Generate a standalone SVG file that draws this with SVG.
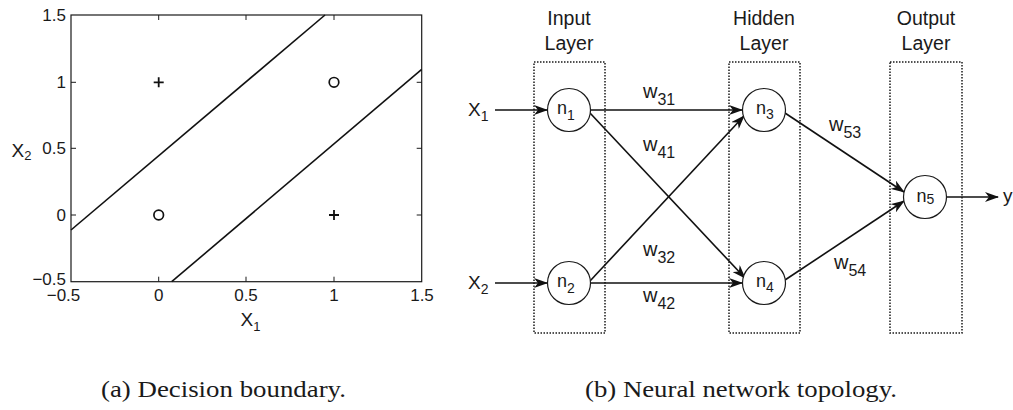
<svg xmlns="http://www.w3.org/2000/svg" width="1013" height="410" viewBox="0 0 1013 410">
<style>
.tk{font-size:17px}
.ax{font-size:19px}
.lay{font-size:19.5px}
.cap{font-size:23px}
.ln{stroke:#111;stroke-width:1.6;fill:none}
.box{stroke:#1a1a1a;stroke-width:1.5;fill:none;stroke-dasharray:1.5 1.5}
.nd{stroke:#1a1a1a;stroke-width:1.2;fill:#fff}
.nl{font-size:18px}
.wl{font-size:20px}
.edge{stroke:#111;stroke-width:1.6;fill:none;marker-end:url(#ah)}
</style>
<defs>
<marker id="ah" viewBox="0 0 14 10" refX="13" refY="5" markerWidth="14" markerHeight="10" markerUnits="userSpaceOnUse" orient="auto">
<path d="M0,0 L14,5 L0,10 L4,5 Z" fill="#111"/>
</marker>
</defs>
<rect width="1013" height="410" fill="#fff"/>

<g id="plot" font-family="'Liberation Sans', Arial, sans-serif" fill="#1a1a1a">
<rect x="71" y="15" width="350.7" height="266.7" fill="none" stroke="#1a1a1a" stroke-width="1.2"/>
<g stroke="#1a1a1a" stroke-width="1">
<path d="M158.7,281.7v-5M246,281.7v-5M334,281.7v-5M158.7,15v5M246,15v5M334,15v5"/>
<path d="M71,215h5M71,148.3h5M71,82.3h5M421.7,215h-5M421.7,148.3h-5M421.7,82.3h-5"/>
</g>
<line class="ln" x1="71" y1="230" x2="325" y2="15"/>
<line class="ln" x1="171.7" y1="281.7" x2="421.7" y2="69.3"/>
<path d="M153.7,82.3h10M158.7,77.3v10M329,215h10M334,210v10" stroke="#111" stroke-width="1.8"/>
<circle cx="334" cy="82.3" r="4.8" fill="none" stroke="#111" stroke-width="1.7"/>
<circle cx="158.7" cy="215" r="4.8" fill="none" stroke="#111" stroke-width="1.7"/>
<g class="tk" text-anchor="end">
<text x="66" y="21">1.5</text>
<text x="66" y="88">1</text>
<text x="66" y="154">0.5</text>
<text x="66" y="221">0</text>
<text x="66" y="285">−0.5</text>
</g>
<g class="tk" text-anchor="middle">
<text x="63.5" y="301">−0.5</text>
<text x="158.7" y="301">0</text>
<text x="246" y="301">0.5</text>
<text x="334" y="301">1</text>
<text x="422" y="301">1.5</text>
</g>
<text class="ax" x="11.5" y="156.5">X<tspan font-size="13" dy="3.5">2</tspan></text>
<text class="ax" x="240.5" y="326">X<tspan font-size="13" dy="5">1</tspan></text>
</g>

<g id="layers" font-family="'Liberation Sans', Arial, sans-serif" fill="#1a1a1a">
<rect class="box" x="534" y="62" width="71" height="271"/>
<rect class="box" x="729" y="62" width="71" height="271"/>
<rect class="box" x="890" y="62" width="72" height="271"/>
<g class="lay" text-anchor="middle">
<text x="569" y="25">Input</text>
<text x="569" y="50">Layer</text>
<text x="764" y="25">Hidden</text>
<text x="764" y="50">Layer</text>
<text x="926" y="25">Output</text>
<text x="926" y="50">Layer</text>
</g>
</g>

<g id="connectors">
<line class="edge" x1="495" y1="110" x2="547" y2="110"/>
<line class="edge" x1="495" y1="283" x2="547" y2="283"/>
<line class="edge" x1="590" y1="110" x2="742" y2="110"/>
<line class="edge" x1="590" y1="113" x2="745" y2="278"/>
<line class="edge" x1="590" y1="281" x2="744" y2="116"/>
<line class="edge" x1="590" y1="283" x2="742" y2="283"/>
<line class="edge" x1="785" y1="113" x2="904" y2="192"/>
<line class="edge" x1="785" y1="280" x2="904" y2="201"/>
<line class="edge" x1="946" y1="197" x2="998" y2="197"/>
</g>

<g id="labels" class="wl" font-family="'Liberation Sans', Arial, sans-serif" fill="#1a1a1a">
<text x="468" y="116" class="ax">X<tspan font-size="14" dy="5">1</tspan></text>
<text x="468" y="289" class="ax">X<tspan font-size="14" dy="5">2</tspan></text>
<text x="1003" y="202" class="ax">y</text>
<text x="643" y="98">w<tspan font-size="16" dy="7">31</tspan></text>
<text x="643" y="151">w<tspan font-size="16" dy="7">41</tspan></text>
<text x="643" y="256">w<tspan font-size="16" dy="7">32</tspan></text>
<text x="643" y="302">w<tspan font-size="16" dy="7">42</tspan></text>
<text x="829" y="131">w<tspan font-size="16" dy="7">53</tspan></text>
<text x="834" y="269">w<tspan font-size="16" dy="7">54</tspan></text>
</g>

<g font-family="'Liberation Sans', Arial, sans-serif" fill="#1a1a1a">
<g id="n1"><circle class="nd" cx="569" cy="110" r="21.5"/><text class="nl" x="557" y="114">n<tspan font-size="14" dy="6">1</tspan></text></g>
<g id="n2"><circle class="nd" cx="569" cy="283" r="21.5"/><text class="nl" x="557" y="287">n<tspan font-size="14" dy="6">2</tspan></text></g>
<g id="n3"><circle class="nd" cx="764" cy="110" r="21.5"/><text class="nl" x="756" y="114">n<tspan font-size="14" dy="5">3</tspan></text></g>
<g id="n4"><circle class="nd" cx="764" cy="283" r="21.5"/><text class="nl" x="756" y="287">n<tspan font-size="14" dy="5">4</tspan></text></g>
<g id="n5"><circle class="nd" cx="925" cy="197" r="21.5"/><text class="nl" x="916.5" y="202">n<tspan font-size="14" dy="2">5</tspan></text></g>
</g>

<g id="captions" font-family="'Liberation Serif', 'DejaVu Serif', 'Times New Roman', serif" fill="#1a1a1a">
<text class="cap" x="101" y="397" textLength="245" lengthAdjust="spacingAndGlyphs">(a) Decision boundary.</text>
<text class="cap" x="585" y="397" textLength="312" lengthAdjust="spacingAndGlyphs">(b) Neural network topology.</text>
</g>
</svg>
